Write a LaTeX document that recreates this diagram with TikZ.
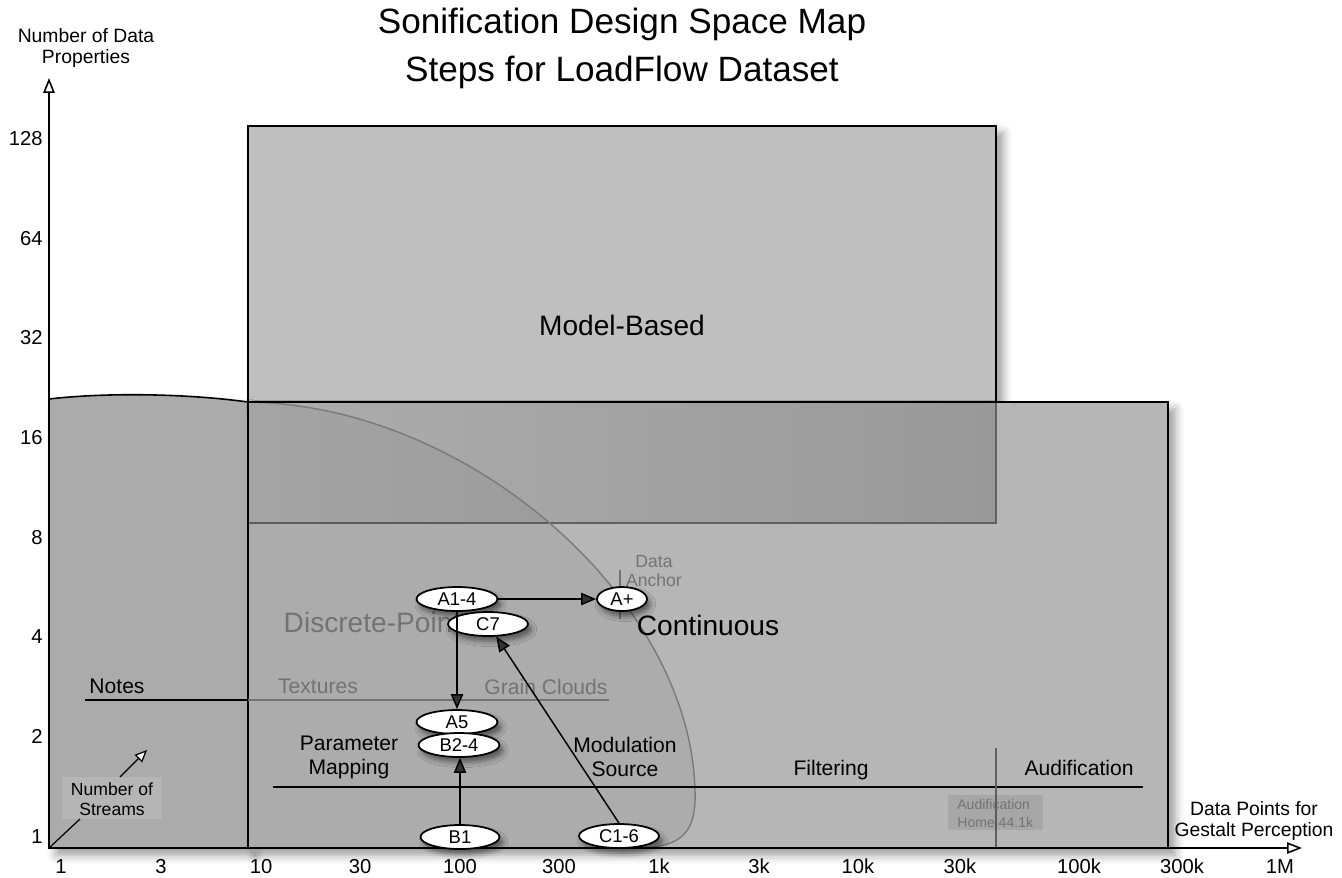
\documentclass[tikz,border=0pt]{standalone}
\usepackage{fontspec}
\setmainfont{Liberation Sans}
\usetikzlibrary{arrows.meta,shapes.geometric,shadows.blur}
\definecolor{mbfill}{gray}{0.75}
\definecolor{ctfill}{gray}{0.715}
\definecolor{ltfill}{gray}{0.67}
\definecolor{ovleft}{gray}{0.68}
\definecolor{ovright}{gray}{0.60}
\definecolor{faint}{gray}{0.45}
\definecolor{edgegray}{gray}{0.38}
\definecolor{curvegray}{gray}{0.48}
\begin{document}
\begin{tikzpicture}[x=0.02cm,y=-0.02cm,
  every node/.style={inner sep=0pt},
  ttl/.style={font=\fontsize{20}{24}\selectfont},
  tick/.style={font=\fontsize{11.5}{14}\selectfont},
  axlbl/.style={font=\fontsize{11}{12.5}\selectfont, align=center},
  big/.style={font=\fontsize{16}{19}\selectfont},
  mid/.style={font=\fontsize{12}{13.6}\selectfont, align=center},
  small/.style={font=\fontsize{10}{11.3}\selectfont, align=center},
  tinytext/.style={font=\fontsize{8}{10.2}\selectfont, align=left},
  stepnode/.style={ellipse, draw, line width=1pt, fill=white, minimum height=0.48cm,
     font=\fontsize{10.5}{12}\selectfont,
     blur shadow={shadow xshift=2pt, shadow yshift=-3pt, shadow blur radius=3pt, shadow opacity=50}},
  flow/.style={-{Triangle[length=8.5pt,width=7pt]}, line width=0.85pt},
  axis/.style={-{Triangle[open,length=8.5pt,width=6.5pt,fill=white]}, line width=0.9pt},
  shd/.style={blur shadow={shadow xshift=4pt, shadow yshift=-4pt, shadow blur radius=5pt, shadow opacity=40}},
  border/.style={line width=0.9pt, draw=black}
]
\useasboundingbox (0,0) rectangle (1342,877);

% Model-Based region
\path[shd, fill=mbfill, border] (248,126) rectangle (996,523);
% left (Notes) region
\path[shd, fill=ltfill, border] (49,399) .. controls (110,392) and (190,394) .. (248,402) -- (248,848) -- (49,848) -- cycle;
% Continuous region
\path[shd, fill=ctfill] (248,402) rectangle (1168,848);
% overlap band
\shade[left color=ovleft, right color=ovright] (248,402) rectangle (996,523);
\draw[edgegray, line width=0.9pt] (248,523) -- (996,523) -- (996,402);
% Discrete-point region
\fill[black, fill opacity=0.05] (248,402) .. controls (470,405) and (690,600) .. (695,790)
   .. controls (697,840) and (675,848) .. (630,848) -- (248,848) -- cycle;
\draw[curvegray, line width=0.8pt] (248,402) .. controls (470,405) and (690,600) .. (695,790)
   .. controls (697,840) and (675,848) .. (630,848);
% Continuous border
\draw[border] (248,402) rectangle (1168,848);

% titles
\node[ttl] (t1) at (622,24) {Sonification Design Space Map};
\node[ttl] (t2) at (622,72) {Steps for LoadFlow Dataset};

% region labels
\node[big] (mb) at (622,325) {Model-Based};
\node[big] (cont) at (708,625) {Continuous};
\node[big, text=faint] (disc) at (372,622) {Discrete-Point};
\node[small, text=faint] (anchor) at (654,571) {Data\\Anchor};
\draw[faint, line width=0.7pt] (620,570) -- (620,619);

% notes / textures line
\coordinate (n0) at (85,700);
\coordinate (n1) at (248,700);
\coordinate (n2) at (609,700);
\draw[line width=0.8pt] (n0) -- (n1);
\draw[faint, line width=0.8pt] (n1) -- (n2);
\node[mid] (notes) at (117,686) {Notes};
\node[mid, text=faint] (tex) at (318,686) {Textures};
\node[mid, text=faint] (grain) at (546,687) {Grain Clouds};

% filtering line
\coordinate (f0) at (273,787);
\coordinate (f1) at (1143,787);
\draw[line width=0.8pt] (f0) -- (f1);
\coordinate (v0) at (996,748);
\coordinate (v1) at (996,847);
\draw[edgegray, line width=0.8pt] (v0) -- (v1);
\node[mid] (pm) at (349,757) {Parameter\\Mapping};
\node[mid] (ms) at (625,757) {Modulation\\Source};
\node[mid] (filt) at (831,770) {Filtering};
\node[mid] (audi) at (1079,768) {Audification};
\fill[black, fill opacity=0.08] (948,795) rectangle (1043,830);
\node[tinytext, text=faint, anchor=west] (home) at (957,813) {Audification\\Home 44.1k};

% streams
\fill[white, fill opacity=0.12] (62,777) rectangle (162,819);
\node[small] (streams) at (112,799) {Number of\\Streams};

% axes
\coordinate (o) at (49,848);
\coordinate (ytip) at (49,78);
\coordinate (xtip) at (1302,848);
\draw[axis] (o) -- (ytip);
\draw[axis] (o) -- (xtip);
\coordinate (s1) at (80,819);
\draw[line width=0.7pt] (o) -- (s1);
\coordinate (sa) at (120,777);
\coordinate (sb) at (147,750);
\draw[-{Triangle[open,length=7pt,width=6pt,fill=white]}, line width=0.7pt] (sa) -- (sb);

\node[axlbl] (ylab) at (86,48) {Number of Data\\Properties};
\node[axlbl] (xlab) at (1254,821) {Data Points for\\Gestalt Perception};

% y ticks
\foreach \v/\y in {128/138,64/238,32/337,16/437,8/537,4/636,2/736,1/836}
  \node[tick, anchor=base east] at (43,\y+7) {\v};
% x ticks
\foreach \v/\x in {1/61,3/161,10/261,30/360,100/460,300/559,1k/659,3k/759,10k/858,30k/960,100k/1079,300k/1182,1M/1280}
  \node[tick, anchor=base] at (\x,873) {\v};

% step nodes
\node[stepnode, minimum width=1.62cm] (a14) at (457,599) {A1-4};
\node[stepnode, minimum width=1.0cm] (aplus) at (622,599) {A+};
\node[stepnode, minimum width=1.6cm] (c7) at (488,624) {C7};
\node[stepnode, minimum width=1.62cm] (a5) at (457,722) {A5};
\node[stepnode, minimum width=1.62cm] (b24) at (459,745) {B2-4};
\node[stepnode, minimum width=1.58cm] (b1) at (460,837) {B1};
\node[stepnode, minimum width=1.6cm] (c16) at (619,836) {C1-6};

% flows
\draw[flow] (a14.east) -- (aplus.west);
\draw[flow] (a14.south) -- (a5.north);
\draw[flow] (b1.north) -- (b1.north |- b24.south);
\draw[flow] (c16.north) -- (c7);
\end{tikzpicture}
\end{document}
